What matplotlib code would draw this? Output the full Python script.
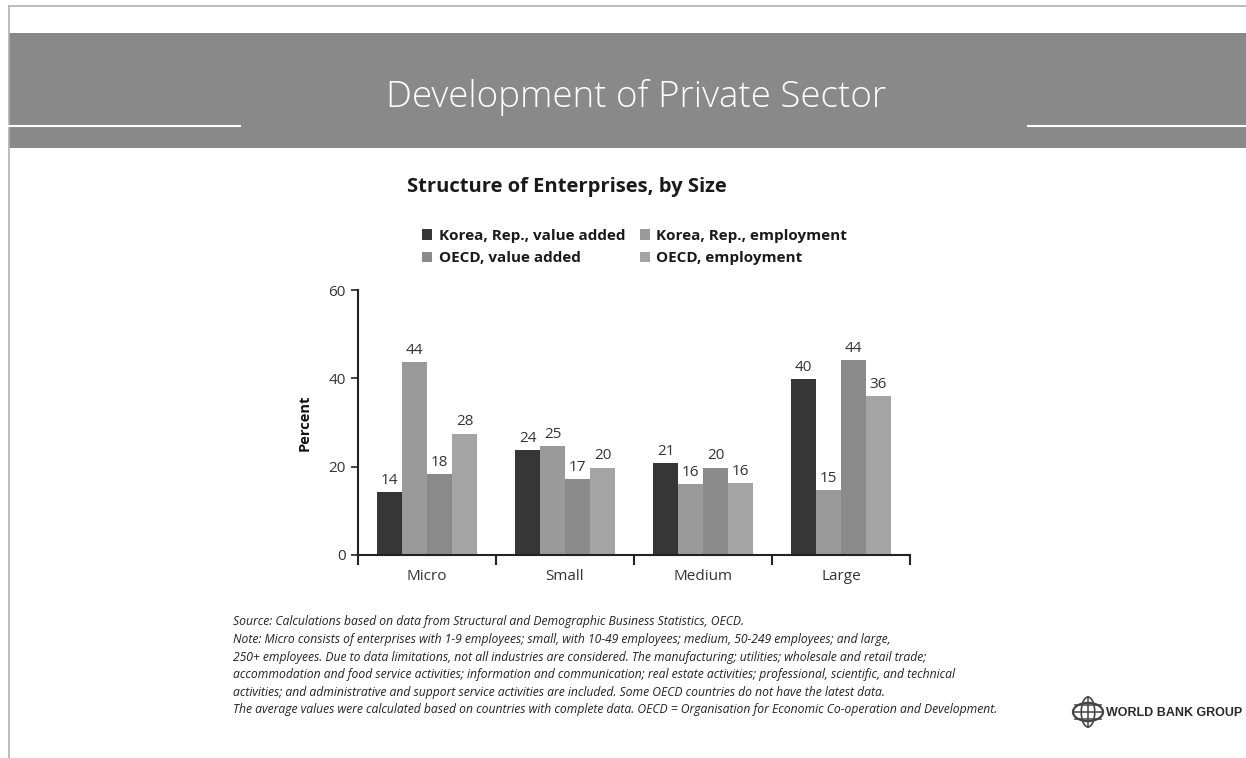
import matplotlib
matplotlib.use("Agg")
import matplotlib.pyplot as plt
from matplotlib.patches import Rectangle, Circle, Ellipse
from matplotlib.lines import Line2D
import numpy as np

W, H = 1246, 758

categories = ["Micro", "Small", "Medium", "Large"]
series_names = ["Korea, Rep., value added", "Korea, Rep., employment",
                "OECD, value added", "OECD, employment"]
korea_value_added = [14.2, 23.8, 20.8, 39.9]
korea_employment = [43.7, 24.7, 16.0, 14.7]
oecd_value_added = [18.3, 17.2, 19.8, 44.2]
oecd_employment = [27.5, 19.8, 16.3, 35.9]
bar_labels = [["14", "24", "21", "40"],
              ["44", "25", "16", "15"],
              ["18", "17", "20", "44"],
              ["28", "20", "16", "36"]]
yticks = [0, 20, 40, 60]
colors = ["#363636", "#9a9a9a", "#8a8a8a", "#a4a4a4"]

FONT = "Open Sans"

fig = plt.figure(figsize=(W / 100, H / 100), dpi=100)

def fx(x):
    return x / W

def fy(y):
    return 1 - y / H

# frame lines
fig.add_artist(Line2D([fx(9), fx(W)], [fy(6), fy(6)], color="#b0b0b0", lw=1.2))
fig.add_artist(Line2D([fx(9), fx(9)], [fy(6), fy(H)], color="#b0b0b0", lw=1.2))
# header band
fig.add_artist(Rectangle((fx(9), fy(148)), fx(W - 9), (148 - 33) / H,
                         facecolor="#898989", edgecolor="none"))
fig.add_artist(Line2D([fx(9), fx(240)], [fy(126), fy(126)], color="white", lw=1.5))
fig.add_artist(Line2D([fx(1028), fx(W)], [fy(126), fy(126)], color="white", lw=1.5))
fig.text(fx(636), fy(97), "Development of Private Sector", color="white",
         fontsize=26.5, fontfamily="Open Sans", fontweight="light",
         ha="center", va="center")

# chart title
fig.text(fx(567), fy(187), "Structure of Enterprises, by Size", color="#1a1a1a",
         fontsize=14.5, fontfamily="Open Sans", fontweight="bold",
         ha="center", va="center")

# axes
ax = fig.add_axes([fx(358), fy(555), (910 - 358) / W, (555 - 290) / H])
series = [korea_value_added, korea_employment, oecd_value_added, oecd_employment]
x = np.arange(len(categories))
bw = 0.181
handles = []
for i, vals in enumerate(series):
    pos = x + (i - 1.5) * bw
    b = ax.bar(pos, vals, width=bw, color=colors[i], edgecolor="none",
               label=series_names[i])
    handles.append(b)
    for p, v, lab in zip(pos, vals, bar_labels[i]):
        ax.annotate(lab, (p, v), xytext=(0, 3), textcoords="offset points",
                    ha="center", va="bottom", fontsize=11, color="#333333",
                    fontfamily=FONT)

ax.set_xlim(-0.5, 3.5)
ax.set_ylim(0, 60)
ax.set_yticks(yticks)
ax.set_yticklabels([str(t) for t in yticks], fontsize=11, color="#333333",
                   fontfamily=FONT)
ax.set_xticks(np.arange(-0.5, 4.0, 1.0))
ax.set_xticklabels([])
ax.set_xticks(x, minor=True)
ax.set_xticklabels(categories, minor=True, fontsize=11, color="#333333",
                   fontfamily=FONT)
ax.tick_params(axis="x", which="major", length=7, width=1.5, color="#222222",
               direction="out")
ax.tick_params(axis="x", which="minor", length=0, pad=10)
ax.tick_params(axis="y", length=5, width=1.2, color="#222222", pad=4)
for s in ["top", "right"]:
    ax.spines[s].set_visible(False)
ax.spines["left"].set_color("#222222")
ax.spines["left"].set_linewidth(1.5)
ax.spines["bottom"].set_color("#222222")
ax.spines["bottom"].set_linewidth(1.5)
ax.set_ylabel("Percent", fontsize=10.5, fontweight="bold", fontfamily=FONT,
              color="#111111", labelpad=12)

# legend
leg = fig.legend(handles=[handles[0], handles[2], handles[1], handles[3]],
                 labels=[series_names[0], series_names[2], series_names[1], series_names[3]],
                 ncol=2, loc="center left", bbox_to_anchor=(fx(408), fy(247)),
                 frameon=False, handlelength=0.7, handleheight=0.7,
                 handletextpad=0.4, columnspacing=0.95, labelspacing=0.55,
                 prop={"family": FONT, "weight": "bold", "size": 11})
for t in leg.get_texts():
    t.set_color("#1a1a1a")

# footnote
notes = [
    "Source: Calculations based on data from Structural and Demographic Business Statistics, OECD.",
    "Note: Micro consists of enterprises with 1-9 employees; small, with 10-49 employees; medium, 50-249 employees; and large,",
    "250+ employees. Due to data limitations, not all industries are considered. The manufacturing; utilities; wholesale and retail trade;",
    "accommodation and food service activities; information and communication; real estate activities; professional, scientific, and technical",
    "activities; and administrative and support service activities are included. Some OECD countries do not have the latest data.",
    "The average values were calculated based on countries with complete data. OECD = Organisation for Economic Co-operation and Development.",
]
for k, line in enumerate(notes):
    fig.text(fx(233), fy(622 + k * 17.6), line, fontsize=8.75, fontstyle="italic",
             fontfamily="Open Sans", color="#222222", ha="left", va="center")

# World Bank logo
cx, cy, r = 1088, 712, 15
fig.add_artist(Circle((fx(cx), fy(cy)), r / W, transform=fig.transFigure,
                      fill=False, edgecolor="#444444", lw=1.6))
fig.add_artist(Ellipse((fx(cx), fy(cy)), 2 * r * 0.45 / W, 2 * r / H,
                       transform=fig.transFigure, fill=False,
                       edgecolor="#444444", lw=1.2))
for dy in (-7, 0, 7):
    half = np.sqrt(max(r * r - dy * dy, 0))
    fig.add_artist(Line2D([fx(cx - half), fx(cx + half)], [fy(cy + dy), fy(cy + dy)],
                          color="#444444", lw=1.1))
fig.add_artist(Line2D([fx(cx), fx(cx)], [fy(cy - r), fy(cy + r)], color="#444444", lw=1.1))
fig.text(fx(1106), fy(713), "WORLD BANK GROUP", fontsize=9, fontweight="bold",
         fontfamily="Liberation Sans", color="#2a2a2a", ha="left", va="center")

fig.savefig("out.png", dpi=100)
